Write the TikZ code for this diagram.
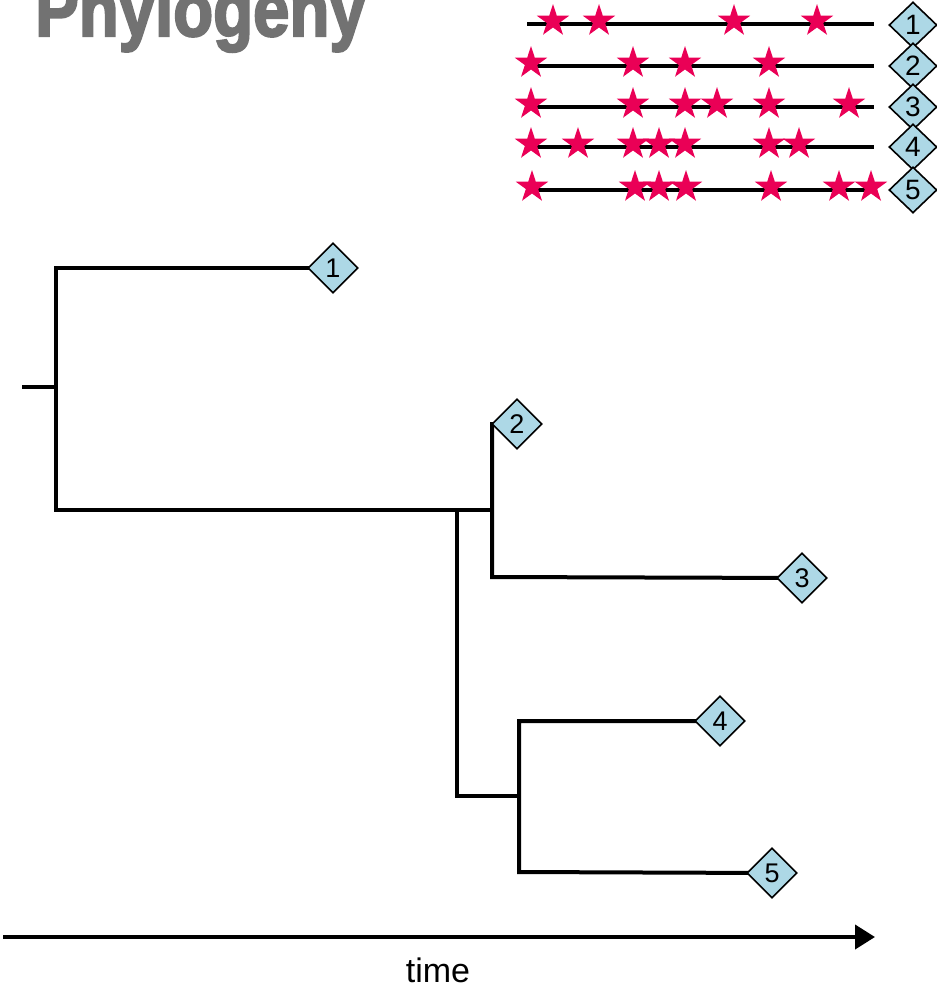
\documentclass[tikz,border=0pt]{standalone}
\usepackage{fontspec}
\setmainfont{Liberation Sans}
\newfontfamily\titlefont[FakeBold=3]{Liberation Sans Bold}
\usetikzlibrary{shapes.geometric,arrows.meta}
\definecolor{starred}{RGB}{234,0,86}
\definecolor{tagblue}{RGB}{173,216,230}
\definecolor{titlegray}{RGB}{114,114,114}
\begin{document}
\begin{tikzpicture}[x=1pt,y=-1pt,
  tag/.style={diamond,draw=black,line width=1.6pt,fill=tagblue,minimum width=50pt,minimum height=50pt,inner sep=0pt,font=\fontsize{27}{27}\selectfont},
  seqtag/.style={tag,minimum width=48pt,minimum height=46pt,font=\fontsize{28}{28}\selectfont},
  branch/.style={line width=4pt,line join=miter,line cap=rect},
  seqline/.style={line width=4pt},
  mstar/.style={star,star points=5,star point ratio=2.618,minimum size=34pt,inner sep=0pt,fill=starred,draw=none}]
\useasboundingbox (0,0) rectangle (937,988);

% title
\node[anchor=base west,inner sep=0pt,text=titlegray,font=\fontsize{76}{76}\titlefont] (title) at (35,36) {\scalebox{0.86}[1]{Phylogeny}};

% sequences
\foreach \i/\y/\xs in {1/24/527,2/66/531,3/107/531,4/147/531,5/190/531}{
  \coordinate (s\i a) at (\xs,\y);
  \coordinate (s\i b) at (874,\y);
  \draw[seqline] (s\i a) -- (s\i b);
}
\foreach \x in {553,599,734,817} \node[mstar] (m1-\x) at (\x,21) {};
\foreach \x in {531,633,685,769} \node[mstar] (m2-\x) at (\x,63) {};
\foreach \x in {531,633,685,717,769,849} \node[mstar] (m3-\x) at (\x,104) {};
\foreach \x in {531,578,633,659,685,769,799} \node[mstar] (m4-\x) at (\x,144) {};
\foreach \x in {532,635,659,686,771,839,871} \node[mstar] (m5-\x) at (\x,187) {};
\foreach \i/\y in {1/25,2/66,3/107,4/147,5/190}
  \node[seqtag] (q\i) at (913,\y) {\i};

% tree
\coordinate (d1) at (333,268);
\coordinate (d2) at (517,424);
\coordinate (d3) at (802,578);
\coordinate (d4) at (720,721);
\coordinate (d5) at (772,873);
\coordinate (stub) at (24,387);
\coordinate (r) at (56,387);
\coordinate (c1) at (56,268);
\coordinate (c2) at (56,510);
\coordinate (c3) at (492,510);
\coordinate (c4) at (492,577);
\coordinate (c5) at (457,513);
\coordinate (c6) at (457,796);
\coordinate (c7) at (519,796);
\coordinate (c8) at (519,721);
\coordinate (c9) at (519,872);
\draw[branch] (stub) -- (r);
\draw[branch] (d1) -- (c1) -- (c2) -- (c3);
\draw[branch] (d2) ++(-25,0) -- (c4) -- (d3);
\draw[branch] (c5) -- (c6) -- (c7);
\draw[branch] (d4) -- (c8) -- (c9) -- (d5);
\node[tag] (t1) at (d1) {1};
\node[tag] (t2) at (d2) {2};
\node[tag] (t3) at (d3) {3};
\node[tag] (t4) at (d4) {4};
\node[tag] (t5) at (d5) {5};

% time axis
\coordinate (a0) at (3,937);
\coordinate (a1) at (875,937);
\draw[line width=4pt,-{Triangle[length=20pt,width=24pt]}] (a0) -- (a1);
\node[anchor=base,font=\fontsize{34}{34}\selectfont] (timelabel) at (438,982) {time};
\end{tikzpicture}
\end{document}
